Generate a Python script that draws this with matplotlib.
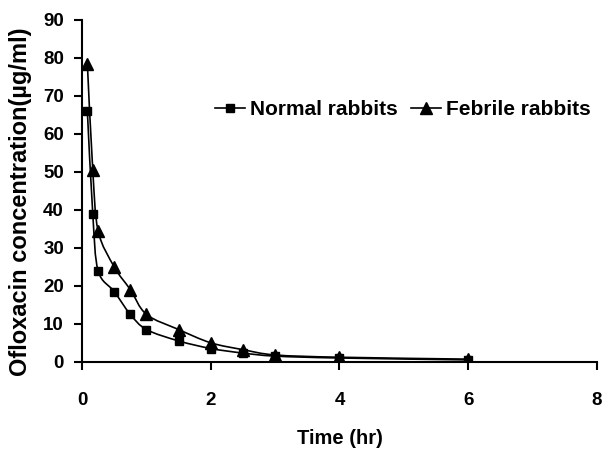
import matplotlib
matplotlib.use("Agg")
import matplotlib.pyplot as plt
import numpy as np
from matplotlib.path import Path
from matplotlib.patches import PathPatch
from matplotlib.lines import Line2D

plt.rcParams['font.family'] = ['Liberation Sans', 'DejaVu Sans']
plt.rcParams['font.weight'] = 'bold'

time_hr = [0.083, 0.167, 0.25, 0.5, 0.75, 1, 1.5, 2, 2.5, 3, 4, 6]
normal = [66, 39, 24, 18.5, 12.5, 8.5, 5.5, 3.5, 2.3, 1.5, 1.0, 0.5]
febrile = [78.5, 50.5, 34.5, 25, 19, 12.5, 8.5, 5, 3.2, 1.8, 1.2, 0.7]


def smooth_path(x, y):
    # Catmull-Rom style bezier, like Excel's smoothed line
    pts = np.column_stack([x, y])
    verts = [pts[0]]
    codes = [Path.MOVETO]
    n = len(pts)
    for i in range(n - 1):
        p0 = pts[i - 1] if i > 0 else pts[i]
        p1 = pts[i]
        p2 = pts[i + 1]
        p3 = pts[i + 2] if i + 2 < n else pts[i + 1]
        c1 = p1 + (p2 - p0) / 6
        c2 = p2 - (p3 - p1) / 6
        verts += [c1, c2, p2]
        codes += [Path.CURVE4] * 3
    return Path(verts, codes)


fig = plt.figure(figsize=(6.03, 4.5), dpi=100)
ax = fig.add_axes([0.136, 0.196, 0.854, 0.76])

for series, marker, ms in [(normal, 's', 5.5), (febrile, '^', 8)]:
    ax.add_patch(PathPatch(smooth_path(time_hr, series), fill=False,
                           edgecolor='black', lw=1.2))
    ax.plot(time_hr, series, linestyle='none', marker=marker, ms=ms,
            color='black')

handles = [Line2D([], [], color='black', lw=1.2, marker='s', ms=5.5),
           Line2D([], [], color='black', lw=1.2, marker='^', ms=8)]
ax.legend(handles, ['Normal rabbits', 'Febrile rabbits'], loc='center right',
          bbox_to_anchor=(0.988, 0.737), ncol=2, frameon=False, fontsize=15,
          handlelength=1.45, handletextpad=0.25, columnspacing=0.6,
          borderpad=0, borderaxespad=0)

ax.set_xlim(0, 8)
ax.set_ylim(0, 90)
ax.set_xticks(range(0, 9, 2))
ax.set_yticks(range(0, 91, 10))
ax.spines['top'].set_visible(False)
ax.spines['right'].set_visible(False)
ax.spines['left'].set_linewidth(1.5)
ax.spines['bottom'].set_linewidth(1.5)
ax.tick_params(direction='out', length=6, width=1.5, labelsize=13.5)
ax.tick_params(axis='x', pad=16)
ax.tick_params(axis='y', pad=7)
for lbl in ax.get_xticklabels() + ax.get_yticklabels():
    lbl.set_fontweight('bold')
ax.set_xlabel('Time (hr)', fontsize=14.5, fontweight='bold', labelpad=14)
ax.set_ylabel('Ofloxacin concentration(µg/ml)', fontsize=17, fontweight='bold')
ax.yaxis.set_label_coords(-0.097, 0.468)

fig.savefig('out.png', dpi=100)
